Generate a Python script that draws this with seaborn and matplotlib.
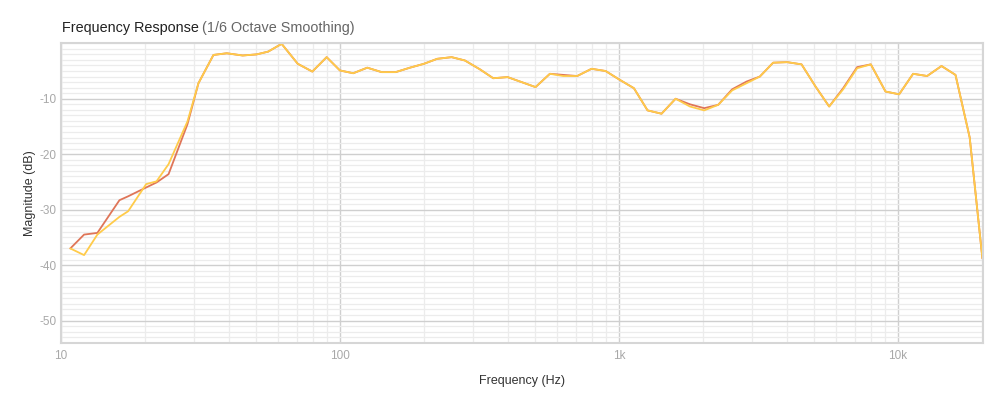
import matplotlib
matplotlib.use("Agg")
import matplotlib.pyplot as plt
import matplotlib.ticker as mticker
import seaborn as sns
import pandas as pd
import numpy as np

freqs_hz = [10.8, 12.1, 13.5, 16.2, 17.4, 20.2, 22.0, 24.3, 28.4, 31.1,
            35.2, 39.3, 44.8, 50.3, 55.3, 61.8, 70.6, 79.6, 89.6, 100,
            111.6, 125.3, 141.1, 158.4, 178.2, 200, 223.2, 251.4, 280.5, 317.6,
            354.4, 399.1, 448, 502.6, 565.8, 631.7, 708.8, 798, 896.2, 1008,
            1132, 1267, 1422, 1597, 1797, 2022, 2270, 2547, 2869, 3201,
            3573, 4010, 4517, 5070, 5673, 6368, 7146, 8002, 9034, 10109,
            11345, 12735, 14342, 16097, 18101, 20100]

yellow_db = [-37.0, -38.2, -34.5, -31.3, -30.3, -25.4, -24.9, -21.8, -14.1, -7.2,
             -2.1, -1.8, -2.2, -2.0, -1.5, -0.1, -3.7, -5.1, -2.5, -4.9,
             -5.4, -4.4, -5.2, -5.2, -4.4, -3.7, -2.8, -2.5, -3.1, -4.7,
             -6.3, -6.1, -7.0, -7.9, -5.5, -5.9, -5.9, -4.6, -5.0, -6.6,
             -8.1, -12.1, -12.7, -10.0, -11.4, -12.1, -11.1, -8.5, -7.2, -6.0,
             -3.5, -3.4, -3.8, -7.8, -11.4, -8.3, -4.5, -3.8, -8.7, -9.2,
             -5.5, -5.9, -4.1, -5.7, -17.0, -38.8]

red_db = [-37.0, -34.5, -34.2, -28.3, -27.6, -26.0, -25.1, -23.6, -14.6, -7.2,
          -2.1, -1.8, -2.2, -2.0, -1.5, -0.1, -3.7, -5.1, -2.5, -4.9,
          -5.4, -4.4, -5.2, -5.2, -4.4, -3.7, -2.8, -2.5, -3.1, -4.7,
          -6.3, -6.1, -7.0, -7.9, -5.5, -5.7, -5.9, -4.6, -5.0, -6.6,
          -8.1, -12.1, -12.7, -10.0, -11.0, -11.7, -11.1, -8.3, -6.9, -6.0,
          -3.5, -3.4, -3.8, -7.8, -11.4, -8.1, -4.3, -3.8, -8.7, -9.2,
          -5.5, -5.9, -4.1, -5.7, -17.0, -38.8]

series_names = ["Measurement A", "Measurement B"]
series_colors = ["#DF7558", "#FFCB4A"]

x_ticks = [10, 100, 1000, 10000]
x_tick_labels = ["10", "100", "1k", "10k"]
y_ticks = [-10, -20, -30, -40, -50]
y_tick_labels = ["-10", "-20", "-30", "-40", "-50"]

df = pd.DataFrame({
    "freq": freqs_hz * 2,
    "db": red_db + yellow_db,
    "series": [series_names[0]] * len(freqs_hz) + [series_names[1]] * len(freqs_hz),
})

sns.set_theme(style="white")
plt.rcParams["font.family"] = ["Liberation Sans", "DejaVu Sans"]

fig = plt.figure(figsize=(10, 3.95), dpi=100)
ax = fig.add_axes([0.061, 0.1324, 0.922, 0.758])

ax.set_xscale("log")
ax.set_xlim(10, 20200)
ax.set_ylim(-54, 0)

# grid
ax.xaxis.set_major_locator(mticker.FixedLocator(x_ticks))
ax.xaxis.set_major_formatter(mticker.FixedFormatter(x_tick_labels))
ax.xaxis.set_minor_locator(mticker.LogLocator(base=10, subs=np.arange(2, 10)))
ax.xaxis.set_minor_formatter(mticker.NullFormatter())
ax.yaxis.set_major_locator(mticker.FixedLocator(y_ticks))
ax.yaxis.set_major_formatter(mticker.FixedFormatter(y_tick_labels))
ax.yaxis.set_minor_locator(mticker.MultipleLocator(1))

ax.grid(which="major", color="#cfcfcf", linewidth=1.0)
ax.grid(which="minor", color="#ececec", linewidth=0.9)
ax.set_axisbelow(True)

sns.lineplot(data=df, x="freq", y="db", hue="series", palette=series_colors,
             hue_order=series_names, linewidth=1.3, legend=False, ax=ax,
             estimator=None, sort=False)

for s in ax.spines.values():
    s.set_color("#d6d6d6")
    s.set_linewidth(1.5)

ax.tick_params(axis="both", which="both", length=0, colors="#a8a8a8", labelsize=8.5)
ax.tick_params(axis="x", pad=5)
ax.tick_params(axis="y", pad=3)

ax.set_xlabel("Frequency (Hz)", fontsize=9, color="#333333", labelpad=9.5)
ax.set_ylabel("Magnitude (dB)", fontsize=9, color="#333333", labelpad=3)

fig.text(0.062, 0.928, "Frequency Response", fontsize=10.4, color="#222222",
         ha="left", va="center")
t = fig.texts[-1]
fig.canvas.draw()
bb = t.get_window_extent()
x_end = fig.transFigure.inverted().transform((bb.x1, bb.y0))[0]
fig.text(x_end + 0.003, 0.928, "(1/6 Octave Smoothing)", fontsize=10.4,
         color="#666666", ha="left", va="center")

fig.savefig("out.png", dpi=100)
